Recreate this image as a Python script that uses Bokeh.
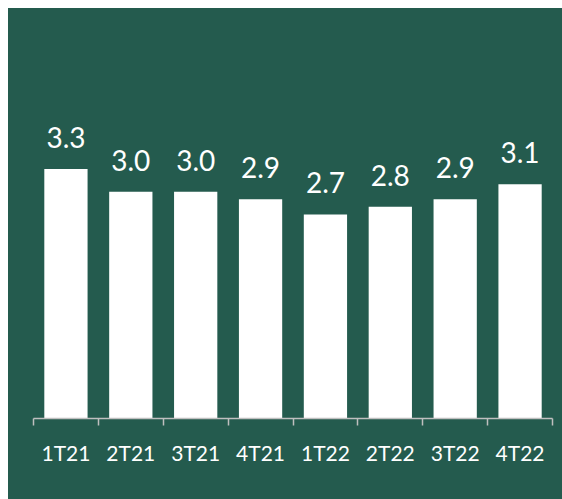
from bokeh.plotting import figure
from bokeh.models import ColumnDataSource, LabelSet, FixedTicker, Range1d
from bokeh.core.properties import value
from bokeh.embed import file_html
from bokeh.resources import INLINE

# Quarterly values
quarters = ["1T21", "2T21", "3T21", "4T21", "1T22", "2T22", "3T22", "4T22"]
values = [3.3, 3.0, 3.0, 2.9, 2.7, 2.8, 2.9, 3.1]

GREEN = "#245B4E"
FONT = "Lato"

centers = [i + 0.5 for i in range(len(quarters))]
source = ColumnDataSource(data=dict(
    x=centers,
    v=values,
    label=[f"{v:.1f}" for v in values],
))

p = figure(
    width=554, height=491,
    x_range=Range1d(0, len(quarters)),
    y_range=Range1d(0, 5.0),
    output_backend="svg",
    toolbar_location=None,
    min_border_left=25, min_border_right=10,
    min_border_top=32, min_border_bottom=81,
)
p.margin = (8, 0, 0, 8)
# One solid panel colour behind both the frame and its borders
p.styles = {"background-color": GREEN}
p.background_fill_alpha = 0
p.border_fill_alpha = 0
p.outline_line_color = None
p.xgrid.visible = False
p.ygrid.visible = False
p.yaxis.visible = False

p.vbar(x="x", top="v", width=0.667, source=source,
       fill_color="white", line_color=None)

labels = LabelSet(x="x", y="v", text="label", source=source,
                  text_align="center", text_baseline="alphabetic",
                  y_offset=21, text_color="white",
                  text_font=value(FONT), text_font_size="28px")
p.add_layout(labels)

# Category labels centred under the bars, tick marks on the boundaries
ax = p.xaxis[0]
ax.ticker = FixedTicker(ticks=centers, minor_ticks=list(range(len(quarters) + 1)))
ax.major_label_overrides = {c: q for c, q in zip(centers, quarters)}
ax.major_tick_line_color = None
ax.major_tick_out = 7
ax.major_tick_in = 0
ax.minor_tick_line_color = "#BFBFBF"
ax.minor_tick_line_width = 1.5
ax.minor_tick_out = 7
ax.minor_tick_in = 0
ax.axis_line_color = "#BFBFBF"
ax.axis_line_width = 1.5
ax.major_label_text_color = "white"
ax.major_label_text_font = FONT
ax.major_label_text_font_size = "21px"
ax.major_label_standoff = 14

open("out.html", "w").write(file_html(p, INLINE))
